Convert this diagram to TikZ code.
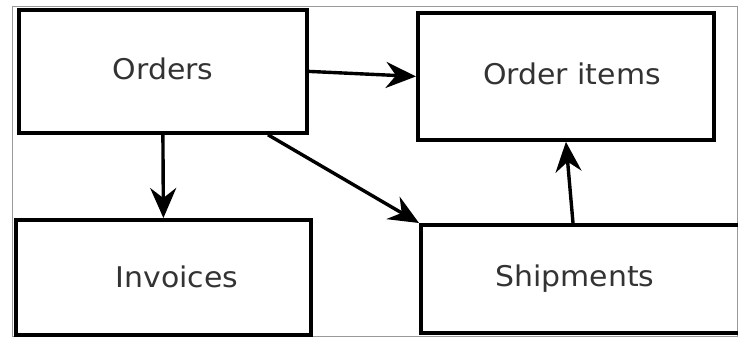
\documentclass[tikz,border=0pt]{standalone}
\usepackage{fontspec}
\setmainfont{DejaVu Sans}
\usetikzlibrary{arrows.meta,calc}

\begin{document}
\begin{tikzpicture}[x=1pt,y=-1pt,
  box/.style={draw=black, line width=3.8pt, rectangle, inner sep=0pt, anchor=north west},
  lbl/.style={font=\fontsize{28.5}{30}\selectfont, text=black!80},
  arr/.style={line width=3.4pt, -{Stealth[length=30pt,width=26pt,inset=10pt]}},
]
  % page area
  \useasboundingbox (0,0) rectangle (738,338);
  \fill[white] (0,0) rectangle (738,338);
  \clip (0,0) rectangle (738,338);

  % thin outer frame
  \draw[black!40, line width=1pt] (12,6) rectangle (737,336);

  % entity boxes (corner positions, sizes in px)
  \node[box, minimum width=288pt, minimum height=123pt] (orders)   at (17,8)   {};
  \node[box, minimum width=296pt, minimum height=127pt] (items)    at (416,11) {};
  \node[box, minimum width=295pt, minimum height=115pt] (invoices) at (14,218) {};
  \node[box, minimum width=330pt, minimum height=108pt] (ship)     at (419,223) {};

  % labels, slightly widened
  \node[lbl] (ordersT)   at (163,69)  {\scalebox{1.05}[1]{Orders}};
  \node[lbl] (itemsT)    at (572,74)  {\scalebox{1.05}[1]{Order items}};
  \node[lbl] (invoicesT) at (177,277) {\scalebox{1.05}[1]{Invoices}};
  \node[lbl] (shipT)     at (575,279) {\scalebox{1.05}[1]{Shipments}};

  % relationships
  \draw[arr] (orders.east) -- (items.west);
  \draw[arr] (orders.south) -- (invoices.north);
  \draw[arr] ($(orders.south west)+(251,0)$) -- (ship.north west);
  \draw[arr] ($(ship.north west)+(154,0)$) -- (items.south);
\end{tikzpicture}
\end{document}
